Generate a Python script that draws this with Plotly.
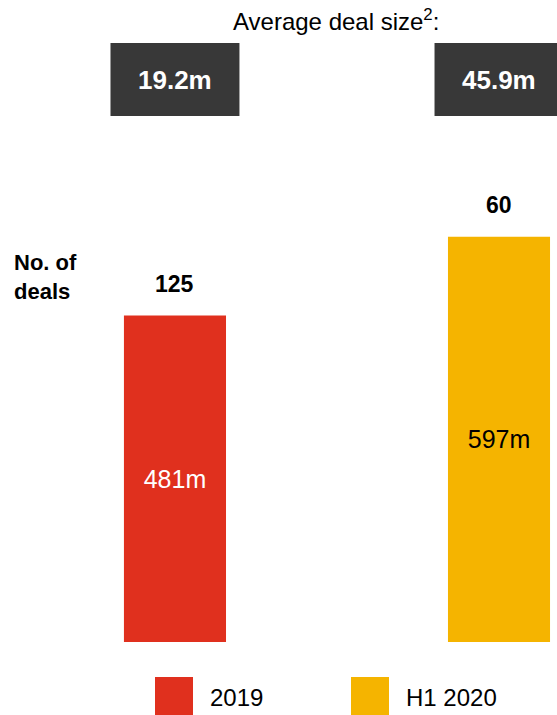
import plotly.graph_objects as go

# ---- data ----
categories = ["2019", "H1 2020"]
deal_value = [481, 597]            # total deal value, m
deal_value_labels = ["481m", "597m"]
deal_count = [125, 60]             # number of deals
avg_deal_size = ["19.2m", "45.9m"] # average deal size
bar_colors = ["#E0301E", "#F5B400"]
inside_text_colors = ["#FFFFFF", "#000000"]

FONT = "Arial, Liberation Sans, sans-serif"
W, H = 557, 715
PLOT_H = 642  # plot area height in px (top margin 0)

def py(p):
    """pixel y (from top) -> paper y"""
    return 1 - p / PLOT_H

def px(p):
    return p / W

fig = go.Figure()
fig.add_trace(go.Bar(
    x=[0, 1],
    y=deal_value,
    width=0.315,
    marker=dict(color=bar_colors, line=dict(width=0)),
    text=deal_value_labels,
    textposition="inside",
    insidetextanchor="middle",
    textangle=0,
    textfont=dict(family=FONT, size=25, color=inside_text_colors),
    showlegend=False,
    hoverinfo="skip",
))

shapes = []
annotations = []

# title
annotations.append(dict(
    text="Average deal size<sup>2</sup>:", x=px(335.5), y=py(20), xref="paper", yref="paper",
    xanchor="center", yanchor="middle", showarrow=False,
    font=dict(family=FONT, size=24, color="#000000"),
))

# average deal size boxes
for i, lab in enumerate(avg_deal_size):
    shapes.append(dict(type="rect", xref="x", yref="paper",
                       x0=i - 0.199, x1=i + 0.199, y0=py(116), y1=py(43),
                       fillcolor="#383838", line=dict(width=0), layer="above"))
    annotations.append(dict(
        text="<b>%s</b>" % lab, x=i, y=py(80), xref="x", yref="paper",
        xanchor="center", yanchor="middle", showarrow=False,
        font=dict(family=FONT, size=26, color="#FFFFFF"),
    ))

# deal counts above bars
for i, (v, c) in enumerate(zip(deal_value, deal_count)):
    annotations.append(dict(
        text="<b>%d</b>" % c, x=i, y=v, xref="x", yref="y",
        xanchor="center", yanchor="middle", yshift=32, showarrow=False,
        font=dict(family=FONT, size=23, color="#000000"),
    ))

# "No. of deals" label
annotations.append(dict(
    text="<b>No. of<br>deals</b>", x=px(12), y=py(277), xref="paper", yref="paper",
    xanchor="left", yanchor="middle", align="left", showarrow=False,
    font=dict(family=FONT, size=22, color="#000000"),
))

# custom legend
legend_sq_x = [155, 351]
legend_txt_x = [208, 404]
for i, cat in enumerate(categories):
    shapes.append(dict(type="rect", xref="paper", yref="paper",
                       x0=px(legend_sq_x[i]), x1=px(legend_sq_x[i] + 38),
                       y0=py(715), y1=py(677),
                       fillcolor=bar_colors[i], line=dict(width=0)))
    annotations.append(dict(
        text=cat, x=px(legend_txt_x[i]), y=py(697), xref="paper", yref="paper",
        xanchor="left", yanchor="middle", showarrow=False,
        font=dict(family=FONT, size=24, color="#000000"),
    ))

fig.update_layout(
    width=W, height=H,
    margin=dict(l=0, r=0, t=0, b=H - PLOT_H, pad=0),
    paper_bgcolor="#FFFFFF", plot_bgcolor="#FFFFFF",
    xaxis=dict(range=[-0.540, 1.179], visible=False, fixedrange=True),
    yaxis=dict(range=[0, 946], visible=False, fixedrange=True),
    shapes=shapes, annotations=annotations,
    uniformtext=dict(minsize=8, mode="show"),
    font=dict(family=FONT),
)

fig.write_html(
    "out.html",
    config={"displayModeBar": False},
    post_script="document.body.style.margin='0px';document.body.style.overflow='hidden';",
)
